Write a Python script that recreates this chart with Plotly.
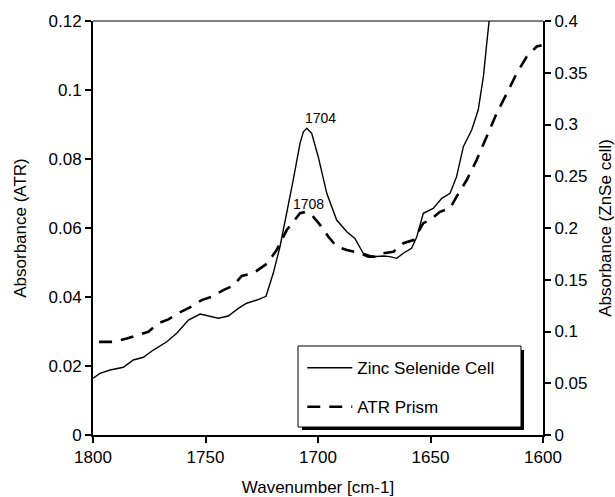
import plotly.graph_objects as go

# Zinc Selenide cell (right axis)
znse_wn = [1800, 1796.9, 1792.4, 1786.5, 1782.1, 1777.6, 1773.2, 1767.2, 1762.8, 1757.6,
           1752.4, 1748.8, 1744.3, 1739.9, 1735.4, 1731.7, 1727.2, 1723.1, 1719.9, 1716.9,
           1713.9, 1711.0, 1708.0, 1706.5, 1705.0, 1702.8, 1699.9, 1696.1, 1691.7, 1687.2,
           1683.6, 1679.9, 1675.4, 1671.0, 1668.0, 1665.0, 1662.1, 1658.4, 1656.1, 1653.2,
           1648.8, 1645.0, 1641.3, 1638.4, 1635.4, 1631.7, 1628.8, 1626.5, 1625.0, 1624.0,
           1622.0]
znse_abs = [0.0548, 0.0596, 0.0628, 0.0654, 0.0725, 0.0751, 0.0821, 0.0901, 0.0983, 0.1111,
            0.1169, 0.1150, 0.1128, 0.1150, 0.1224, 0.1273, 0.1304, 0.1340, 0.1562, 0.1819,
            0.2142, 0.2464, 0.2818, 0.2930, 0.2963, 0.2915, 0.2689, 0.2335, 0.2077, 0.1964,
            0.1900, 0.1756, 0.1723, 0.1729, 0.1723, 0.1707, 0.1756, 0.1804, 0.1916, 0.2142,
            0.2190, 0.2287, 0.2335, 0.2496, 0.2786, 0.2947, 0.3140, 0.3462, 0.3784, 0.3993,
            0.4400]

# ATR prism (left axis)
atr_wn = [1797.3, 1791.0, 1785.0, 1780.6, 1775.4, 1771.0, 1766.5, 1762.1, 1756.9, 1751.7,
          1747.2, 1742.1, 1737.6, 1733.9, 1728.8, 1722.8, 1718.4, 1713.9, 1711.0, 1708.0,
          1705.8, 1702.8, 1699.1, 1695.4, 1691.7, 1687.2, 1681.3, 1677.6, 1673.9, 1671.0,
          1666.5, 1662.1, 1657.6, 1653.2, 1650.2, 1645.8, 1641.3, 1638.4, 1633.9, 1629.5,
          1625.0, 1620.6, 1616.1, 1611.7, 1607.2, 1602.8, 1600.6]
atr_abs = [0.0270, 0.0270, 0.0280, 0.0288, 0.0299, 0.0324, 0.0335, 0.0353, 0.0370, 0.0391,
           0.0401, 0.0420, 0.0433, 0.0461, 0.0469, 0.0496, 0.0536, 0.0594, 0.0618, 0.0643,
           0.0646, 0.0638, 0.0609, 0.0575, 0.0546, 0.0536, 0.0527, 0.0517, 0.0517, 0.0527,
           0.0531, 0.0556, 0.0565, 0.0614, 0.0623, 0.0647, 0.0657, 0.0691, 0.0739, 0.0797,
           0.0865, 0.0932, 0.0990, 0.1048, 0.1097, 0.1126, 0.1130]

FONT = "Liberation Sans, Arial, sans-serif"

fig = go.Figure()
fig.add_trace(go.Scatter(x=znse_wn, y=znse_abs, mode="lines", name="Zinc Selenide Cell",
                         yaxis="y2", legendgroup="a",
                         line=dict(color="black", width=1.4)))
fig.add_trace(go.Scatter(x=atr_wn, y=atr_abs, mode="lines", name="ATR Prism",
                         legendgroup="b",
                         line=dict(color="black", width=2.6, dash="13px,9px")))

axis_common = dict(showline=True, linecolor="black", linewidth=2, ticks="outside",
                   ticklen=6, tickwidth=2, tickcolor="black", showgrid=False,
                   zeroline=False, automargin=False,
                   tickfont=dict(family=FONT, size=17, color="black"))

fig.update_layout(
    width=615, height=497,
    margin=dict(l=93, r=72, t=21, b=62),
    plot_bgcolor="white", paper_bgcolor="white",
    font=dict(family=FONT, color="black"),
    xaxis=dict(range=[1800, 1600], tickvals=[1800, 1750, 1700, 1650, 1600],
               title=dict(text="Wavenumber [cm-1]", font=dict(size=17), standoff=15),
               **axis_common),
    yaxis=dict(range=[0, 0.12], tickvals=[0, 0.02, 0.04, 0.06, 0.08, 0.1, 0.12],
               ticktext=["0", "0.02", "0.04", "0.06", "0.08", "0.1", "0.12"],
               title=dict(text="Absorbance (ATR)", font=dict(size=17), standoff=18),
               **axis_common),
    yaxis2=dict(range=[0, 0.4], overlaying="y", side="right",
                tickvals=[0, 0.05, 0.1, 0.15, 0.2, 0.25, 0.3, 0.35, 0.4],
                ticktext=["0", "0.05", "0.1", "0.15", "0.2", "0.25", "0.3", "0.35", "0.4"],
                title=dict(text="Absorbance (ZnSe cell)", font=dict(size=17), standoff=13),
                **axis_common),
    legend=dict(x=0.465, y=0.205, xanchor="left", yanchor="top",
                bgcolor="rgba(0,0,0,0)", borderwidth=0,
                font=dict(family=FONT, size=17, color="black"),
                itemwidth=45, tracegroupgap=14),
    showlegend=True,
)

# top frame line, legend box with shadow
fig.add_shape(type="line", xref="paper", yref="paper", x0=0, x1=1, y0=1, y1=1,
              line=dict(color="black", width=1))
fig.add_shape(type="rect", xref="paper", yref="paper", x0=0.4644, x1=0.9578,
              y0=0.0121, y1=0.2053, fillcolor="black", line=dict(width=0), layer="above")
fig.add_shape(type="rect", xref="paper", yref="paper", x0=0.4556, x1=0.9511,
              y0=0.0193, y1=0.2150, fillcolor="white", line=dict(color="black", width=1),
              layer="above")

fig.add_annotation(x=1699, y=0.0919, text="1704", showarrow=False, yanchor="middle",
                   font=dict(family=FONT, size=14, color="black"))
fig.add_annotation(x=1704.4, y=0.067, text="1708", showarrow=False, yanchor="middle",
                   font=dict(family=FONT, size=14, color="black"))

# drop the page's default body margin so the figure sits at the window's corner
fig.write_html("out.html", config={"displayModeBar": False},
               post_script="document.body.style.margin='0';")
